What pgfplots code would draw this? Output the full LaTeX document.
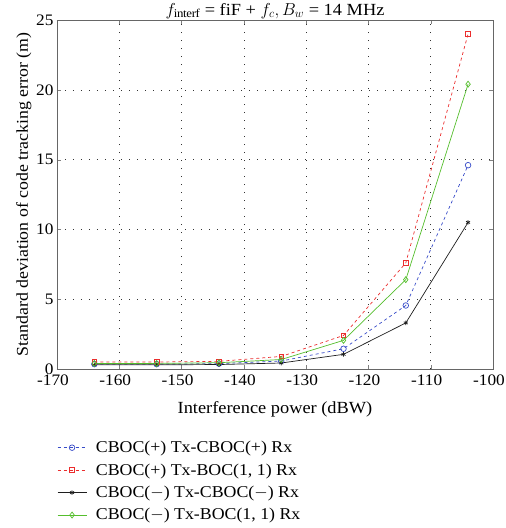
\documentclass[border=0pt]{standalone}
\usepackage{fontspec}
\setmainfont{Liberation Serif}[FakeStretch=1.08]
\usepackage{pgfplots}
\pgfplotsset{compat=1.18}
\definecolor{cblue}{RGB}{55,75,200}
\definecolor{cred}{RGB}{235,45,45}
\definecolor{cgreen}{RGB}{85,190,45}
\definecolor{cblack}{RGB}{30,30,30}
\begin{document}
\begin{tikzpicture}
\useasboundingbox (-57pt,-159pt) rectangle (449pt,369pt);
\begin{axis}[
  at={(0,0)}, anchor=south west,
  width=436pt, height=349pt, scale only axis,
  xmin=-170, xmax=-100, ymin=0, ymax=25,
  xtick={-170,-160,...,-100}, ytick={0,5,...,25},
  grid=major, major grid style={black!80, line width=0.6pt, dash pattern=on 0.8pt off 7.2pt},
  tick align=inside, tick pos=both, major tick length=4pt,
  axis line style={black!60, line width=0.6pt},
  /pgf/number format/assume math mode=true,
  ticklabel style={font=\fontsize{16}{18}\selectfont},
  xticklabel style={xshift=-4pt, yshift=-2pt},
  label style={font=\fontsize{17}{19}\selectfont},
  xlabel={Interference power (dBW)},
  ylabel={Standard deviation of code tracking error (m)},
  xlabel style={yshift=-9pt},
  ylabel style={yshift=-2pt, font=\fontsize{16.5}{19}\selectfont},
  title={$f_{\mathrm{interf}}$ = fiF + $f_c, B_w$ = 14 MHz},
  title style={font=\fontsize{17}{19}\selectfont, yshift=-8pt},
  legend style={at={(0,0)}, anchor=north west, yshift=-70pt, draw=none, fill=none,
    font=\fontsize{16.5}{20}\selectfont, row sep=5.5pt, column sep=7pt, inner sep=0pt},
  legend cell align=left,
  legend image code/.code={\draw[mark repeat=2,mark phase=2,#1] plot coordinates {(0pt,0pt) (14.5pt,0pt) (29pt,0pt)};},
]
\addplot[cblue, dashed, line width=0.7pt, mark=o, mark options={solid}, mark size=2.8pt] coordinates {
(-164,0.35) (-154,0.35) (-144,0.38) (-134,0.57) (-124,1.45) (-114,4.55) (-104,14.6)};
\addlegendentry{CBOC(+) Tx-CBOC(+) Rx}
\addplot[cred, dashed, line width=0.7pt, mark=square, mark options={solid}, mark size=2.3pt] coordinates {
(-164,0.5) (-154,0.5) (-144,0.55) (-134,0.9) (-124,2.4) (-114,7.6) (-104,24.0)};
\addlegendentry{CBOC(+) Tx-BOC(1, 1) Rx}
\addplot[cblack, solid, line width=0.7pt, mark=asterisk, mark size=2.3pt] coordinates {
(-164,0.3) (-154,0.3) (-144,0.32) (-134,0.43) (-124,1.05) (-114,3.3) (-104,10.5)};
\addlegendentry{CBOC($-$) Tx-CBOC($-$) Rx}
\addplot[cgreen, solid, line width=0.7pt, mark=diamond, mark size=3pt] coordinates {
(-164,0.4) (-154,0.4) (-144,0.45) (-134,0.68) (-124,2.05) (-114,6.4) (-104,20.4)};
\addlegendentry{CBOC($-$) Tx-BOC(1, 1) Rx}
\end{axis}
\end{tikzpicture}
\end{document}
